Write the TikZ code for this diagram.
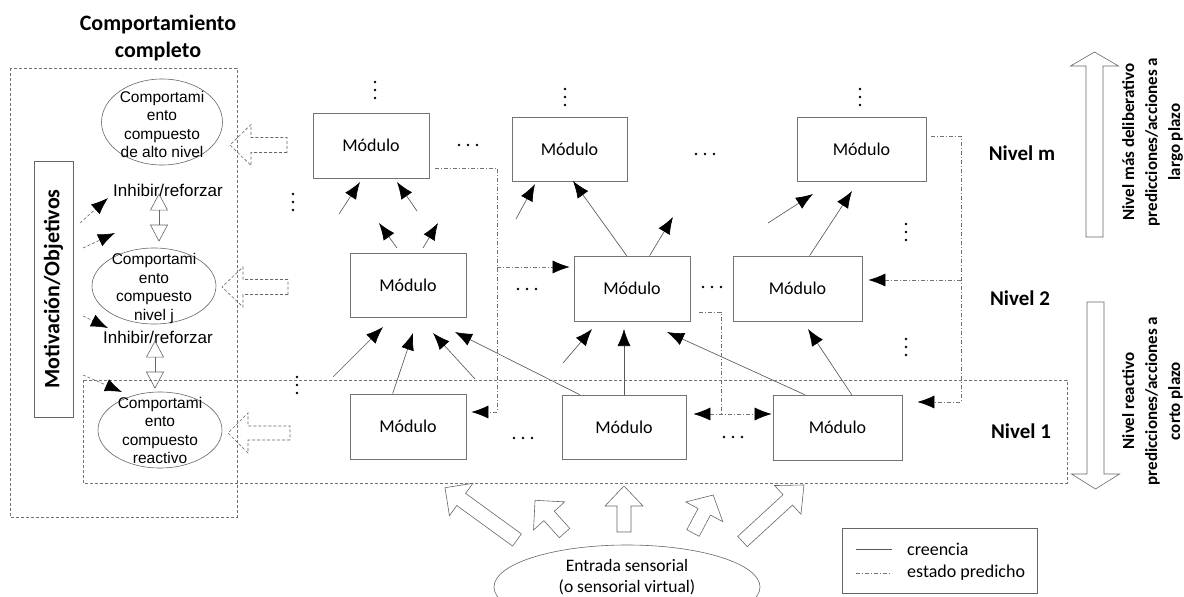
\documentclass[tikz,border=0pt]{standalone}
\usepackage{fontspec}
\setmainfont{Carlito}
\newfontfamily\arialf{Liberation Sans}
\usetikzlibrary{arrows.meta,shapes.geometric,calc}

\tikzset{
  pics/barrow/.style n args={4}{code={
    \draw[pic actions] (0,-#2/2) -- ({#1-#4},-#2/2) -- ({#1-#4},-#3/2) -- (#1,0)
      -- ({#1-#4},#3/2) -- ({#1-#4},#2/2) -- (0,#2/2) -- cycle;
  }},
  pics/hdots/.style={code={\foreach \i in {-1,0,1} \fill[black] (\i*9,0) circle (1.4pt);}},
  pics/vdots/.style={code={\foreach \i in {-1,0,1} \fill[black] (0,\i*8) circle (1.4pt);}},
}

\begin{document}
\begin{tikzpicture}[x=1pt,y=-1pt,
  bigtip/.style={-{Latex[length=17pt,width=13pt,color=black]}},
  module/.style={draw=black!55, line width=0.7pt, minimum width=116pt, minimum height=65pt,
    inner sep=0pt, font=\fontsize{18}{21}\selectfont},
  belief/.style={draw=black!65, line width=0.65pt, bigtip},
  pred/.style={draw=black!55, line width=0.6pt, dash pattern=on 4pt off 2pt on 1pt off 2pt},
  predarr/.style={pred, bigtip},
  predboth/.style={pred, {Latex[length=17pt,width=13pt,color=black]}-{Latex[length=17pt,width=13pt,color=black]}},
  dashbox/.style={draw=black!55, line width=0.6pt, dash pattern=on 3pt off 2pt},
  motarr/.style={draw=black!60, line width=0.6pt, dash pattern=on 3pt off 2pt, bigtip},
  ellbox/.style={ellipse, draw=black!60, line width=0.6pt, inner sep=0pt},
  elltext/.style={inner sep=0pt, align=center, font=\arialf\fontsize{15.5}{18.5}\selectfont},
  inhtext/.style={inner sep=0pt, font=\arialf\fontsize{17}{20}\selectfont},
  inhib/.style={draw=black!60, line width=0.6pt,
    {Triangle[open,length=17pt,width=18pt]}-{Triangle[open,length=17pt,width=18pt]}},
  hollow/.style={draw=black!60, line width=0.6pt},
  hollowdash/.style={draw=black!60, line width=0.6pt, dash pattern=on 3pt off 2pt},
  level/.style={inner sep=0pt, font=\bfseries\fontsize{21}{24}\selectfont},
  sidetext/.style={inner sep=0pt, align=center, rotate=90, font=\bfseries\fontsize{17}{23}\selectfont},
]
\useasboundingbox (0,0) rectangle (1184,597);
\clip (0,0) rectangle (1184,597);

% heading of the left column
\node[inner sep=0pt, align=center, font=\bfseries\fontsize{22}{27}\selectfont] (title) at (158,38.5)
  {Comportamiento\\completo};

% frames: complete behaviour and reactive level
\draw[dashbox] (10,68) rectangle (237,517);
\draw[dashbox] (83,380) rectangle (1067,483);

% motivation box
\node[draw=black!60, line width=0.7pt, rotate=90, minimum width=256pt, minimum height=39pt,
  inner sep=0pt, font=\bfseries\fontsize{22}{26}\selectfont] (mot) at (53.5,289) {Motivación/Objetivos};

% composed behaviours
\node[ellbox, minimum width=121pt, minimum height=86pt] (ell1) at (162,122) {};
\node[elltext] (ell1t) at (162,124.5) {Comportami\\ento\\compuesto\\de alto nivel};
\node[ellbox, minimum width=124pt, minimum height=76pt] (ell2) at (154,286) {};
\node[elltext] (ell2t) at (154,288.5) {Comportami\\ento\\compuesto\\nivel j};
\node[ellbox, minimum width=124pt, minimum height=76pt] (ell3) at (160,430) {};
\node[elltext] (ell3t) at (160,430.5) {Comportami\\ento\\compuesto\\reactivo};

\node[inhtext] (inh1) at (168,190) {Inhibir/reforzar};
\node[inhtext] (inh2) at (158,337) {Inhibir/reforzar};

\draw[inhib, shorten <=-3pt, shorten >=6pt] (inh1.south -| 159,0) -- (ell2.north -| 159,0);
\draw[inhib, shorten <=-3pt, shorten >=3pt] (inh2.south -| 155,0) -- (ell3.north -| 155,0);

% influence of motivation
\coordinate (mo1) at (80,223);  \coordinate (mt1) at (108,198);
\coordinate (mo2) at (83,248);  \coordinate (mt2) at (115,233);
\coordinate (mo3) at (83,316);  \coordinate (mt3) at (108,328);
\coordinate (mo4) at (83,375);  \coordinate (mt4) at (122,392);
\draw[motarr] (mo1) -- (mt1);
\draw[motarr] (mo2) -- (mt2);
\draw[motarr] (mo3) -- (mt3);
\draw[motarr] (mo4) -- (mt4);

% hollow arrows feeding each composed behaviour
\pic[hollowdash, rotate=180] at (287,145) {barrow={57}{15}{41}{21}};
\pic[hollowdash, rotate=180] at (288,287) {barrow={66}{15}{40}{21}};
\pic[hollowdash, rotate=180] at (290,433) {barrow={62}{14}{40}{20}};

% modules
\node[module] (mm1) at (371,145.5) {Módulo};
\node[module, minimum width=115pt, minimum height=64pt] (mm2) at (569.5,149) {Módulo};
\node[module, minimum width=129pt, minimum height=64pt] (mm3) at (861.5,149) {Módulo};
\node[module, minimum height=64pt] (m21) at (408,285) {Módulo};
\node[module] (m22) at (632,288.5) {Módulo};
\node[module, minimum width=129pt] (m23) at (797.5,288.5) {Módulo};
\node[module] (m11) at (408,426.5) {Módulo};
\node[module, minimum width=124pt, minimum height=64pt] (m12) at (624,427) {Módulo};
\node[module, minimum width=129pt] (m13) at (837.5,427.5) {Módulo};

% level labels
\node[level] (lvm) at (1022,153) {Nivel m};
\node[level] (lv2) at (1020,298) {Nivel 2};
\node[level] (lv1) at (1021,431) {Nivel 1};

% ellipsis marks
\pic at (375,90) {vdots};
\pic at (565,97) {vdots};
\pic at (860,97) {vdots};
\pic at (293,202) {vdots};
\pic at (906,232) {vdots};
\pic at (906,347) {vdots};
\pic at (297,385) {vdots};
\pic at (468,145) {hdots};
\pic at (705,154) {hdots};
\pic at (527,289) {hdots};
\pic at (712,287) {hdots};
\pic at (523,438) {hdots};
\pic at (733,437) {hdots};

% beliefs passed upwards
\coordinate (a1s) at (339,214); \coordinate (a1e) at (360,182);
\coordinate (a2s) at (417,211); \coordinate (a2e) at (397,182);
\coordinate (a3s) at (397,248); \coordinate (a3e) at (379,223);
\coordinate (a4s) at (423,248); \coordinate (a4e) at (438,223);
\coordinate (a5s) at (516,219); \coordinate (a5e) at (535,184);
\coordinate (a6e) at (573,181);
\coordinate (a7e) at (673,217);
\coordinate (a8s) at (768,223); \coordinate (a8e) at (813,194);
\coordinate (a9e) at (852,191);
\draw[belief] (a1s) -- (a1e);
\draw[belief] (a2s) -- (a2e);
\draw[belief] (a3s) -- (a3e);
\draw[belief] (a4s) -- (a4e);
\draw[belief] (a5s) -- (a5e);
\draw[belief] ([xshift=53pt]m22.north west) -- (a6e);
\draw[belief] ([xshift=76pt]m22.north west) -- (a7e);
\draw[belief] (a8s) -- (a8e);
\draw[belief] ([xshift=77pt]m23.north west) -- (a9e);

\coordinate (b1s) at (333,377); \coordinate (b1e) at (383,327);
\coordinate (b2e) at (413,333);
\coordinate (b3s) at (475,379); \coordinate (b3e) at (433,333);
\coordinate (b4e) at (455,332);
\coordinate (b5s) at (563,363); \coordinate (b5e) at (592,329);
\coordinate (b6e) at (624,329);
\coordinate (b7e) at (667,332);
\coordinate (b8e) at (808,329);
\draw[belief] (b1s) -- (b1e);
\draw[belief] ([xshift=43pt]m11.north west) -- (b2e);
\draw[belief] (b3s) -- (b3e);
\draw[belief] ([xshift=18pt]m12.north west) -- (b4e);
\draw[belief] (b5s) -- (b5e);
\draw[belief] (m12.north) -- (b6e);
\draw[belief] ([xshift=32pt]m13.north west) -- (b7e);
\draw[belief] ([xshift=79pt]m13.north west) -- (b8e);

% predicted states passed downwards
\draw[predarr, shorten <=6pt, shorten >=5pt] (mm1.east |- 0,168) -| (497,412) -- (m11.east |- 0,412);
\draw[predarr, shorten >=4pt] (497,267) -- (m22.west |- 0,267);
\draw[pred, shorten <=9pt] (m22.east |- 0,312) -| (721,414);
\draw[predboth, shorten <=7pt, shorten >=1pt] (m12.east |- 0,414) -- (m13.west |- 0,414);
\draw[predarr, shorten <=5pt, shorten >=15pt] (mm3.east |- 0,136) -| (961,402) -- (m13.east |- 0,402);
\draw[predarr, shorten >=6pt] (961,280) -- (m23.east |- 0,280);

% sensory input
\node[ellbox, minimum width=266pt, minimum height=84pt] (ent) at (627,587) {};
\node[inner sep=0pt, align=center, font=\fontsize{17.5}{20.5}\selectfont] (entt) at (627,577)
  {Entrada sensorial\\(o sensorial virtual)};
\pic[hollow, rotate=144] at (517,540) {barrow={89}{15}{40}{20}};
\pic[hollow, rotate=132] at (564.5,533) {barrow={44}{14}{42}{21}};
\pic[hollow, rotate=90] at (624,532) {barrow={46}{14}{38}{20}};
\pic[hollow, rotate=62] at (693,533) {barrow={43}{14}{42}{19}};
\pic[hollow, rotate=42.6] at (742.5,541.5) {barrow={83.5}{14}{39}{22}};

% legend
\node[draw=black!60, line width=0.6pt, minimum width=195pt, minimum height=65pt, inner sep=0pt] (legend) at (939.5,560.5) {};
\node[anchor=west, inner sep=0pt, font=\fontsize{18}{21}\selectfont] (lg1) at (907,549) {creencia};
\node[anchor=west, inner sep=0pt, font=\fontsize{18}{21}\selectfont] (lg2) at (907,573) {estado predicho};
\draw[draw=black!65, line width=0.6pt] ([xshift=-51pt]lg1.west) -- ++(36,0);
\draw[pred] ([xshift=-51pt]lg2.west |- 0,573) -- ++(36,0);

% time-scale arrows at the right
\pic[hollow, rotate=90] at (1094.5,237) {barrow={185}{17}{48}{14}};
\pic[hollow, rotate=-90] at (1095.5,302) {barrow={187}{17}{48}{15}};
\node[sidetext] (up) at (1152.5,142) {Nivel más deliberativo\\predicciones/acciones a\\largo plazo};
\node[sidetext] (down) at (1152.5,401) {Nivel reactivo\\predicciones/acciones a\\corto plazo};
\end{tikzpicture}
\end{document}
